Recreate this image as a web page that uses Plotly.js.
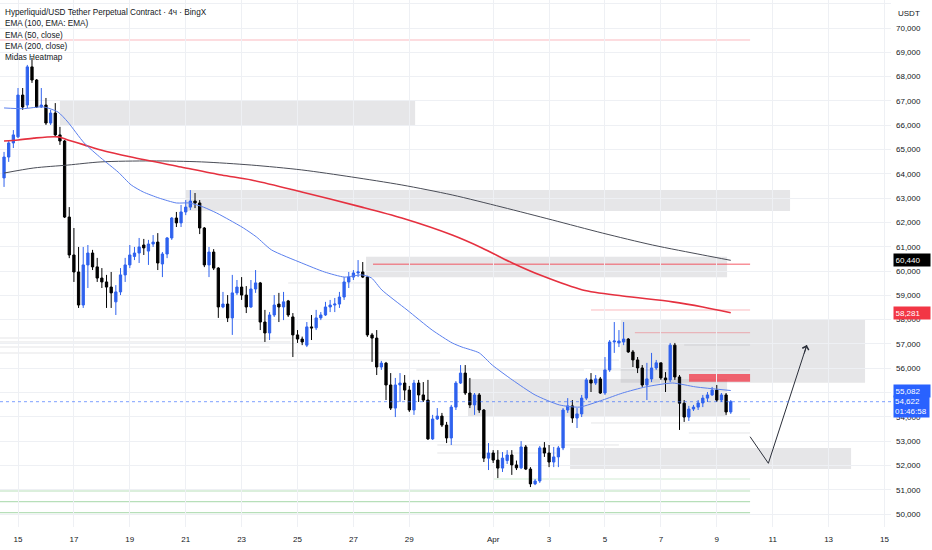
<!DOCTYPE html>
<html>
<head>
<meta charset="utf-8">
<script src="https://cdn.plot.ly/plotly-3.0.1.min.js"></script>
<style>html,body{margin:0;padding:0;background:#fff;}#chart{width:932px;height:550px;}</style>
</head>
<body>
<div id="chart"></div>
<script>
// ---------- DATA (4h candles, first candle 2026-03-14 12:00) ----------
const firstCandle = '2026-03-14 12:00';
const openP = [63830,64690,65270,65520,67240,66830,68400,67860,66750,66830,66090,66500,65600,65350,62220,60660,59960,58600,60250,60740,60170,59710,59550,59340,58730,59140,59840,60250,60600,60740,61070,60820,61110,61190,60290,60700,61360,62180,61980,62430,62630,62880,62800,61770,60250,60780,60120,58520,58640,58070,59100,59340,59010,58520,59260,59510,57900,57450,58190,58640,58520,58770,58110,57370,57200,56950,57700,57660,58070,58190,58520,58600,58640,58930,59550,59750,59920,59960,59750,57370,57240,56050,56210,55310,54360,55310,55390,55100,54280,55390,54900,54690,53090,53910,54030,53660,53130,54400,55390,55800,54980,54490,54900,54280,52300,52510,52220,51890,52200,52430,52020,51900,52760,51850,51240,51360,52720,52510,52140,52350,52720,54280,54450,53950,54120,54770,55520,55390,55560,54980,55930,57080,57040,57080,57200,56670,56340,56010,55310,55560,56010,56220,55600,55520,56950,55640,54560,53990,54320,54400,54570,54770,54900,55100,54690,54900,54200];
const highP = [64900,65390,65800,67530,67530,68480,68770,67900,67530,67120,66630,66910,65930,65390,62630,61770,60990,60990,61070,60870,60540,60120,59840,59960,59420,60120,60540,61070,60990,61360,61320,61280,61480,61560,60780,61400,62220,62430,62720,62920,63330,63210,62920,61810,60990,60900,60160,59140,59010,59840,59630,59750,59380,59630,60040,59550,58400,58310,59010,59100,59140,58810,58270,57570,57300,57900,58190,58400,58310,58730,58810,58890,59140,59750,59960,60040,60450,60370,59800,57450,57570,56300,56260,55800,55600,55800,55720,55270,55520,55520,55430,55520,54080,54360,54160,53790,54490,55470,56130,56130,55600,54980,54980,54320,52920,52630,52630,52550,52630,52630,52200,53000,52840,51930,51440,52800,52960,52840,52760,52800,54360,54770,54690,54360,54900,55600,55800,55720,55640,56460,57160,57900,57570,57900,57240,56750,56460,56130,56220,56630,56340,56220,55840,57040,57040,55720,54690,54450,54490,54690,54900,55020,55230,55310,54980,54980,54690];
const lowP = [63460,64490,65060,65470,66630,66710,67740,66710,66710,66010,66010,65520,65190,62180,60530,59550,58480,58480,59300,60040,59550,59300,58480,58480,58190,59010,59550,60120,60450,60330,60660,60250,60990,60040,59750,60530,61280,61810,61810,62300,62510,62590,61520,60160,59750,60040,58070,58470,57900,57370,59010,58810,58270,58480,59100,57570,57080,57160,58110,57900,57980,58110,56460,57040,56950,56870,57160,57570,57980,58150,58310,58310,58480,58810,59300,59630,59750,59710,57290,56260,55720,55930,54690,54280,53990,54610,54690,54200,54080,54610,54610,53050,53050,53870,53580,52920,52840,54280,55350,54900,54360,54080,54160,52140,51810,52100,51480,51730,52060,51610,51810,51850,51810,51110,51190,51280,52350,51930,51930,51930,52630,54160,53750,53540,53990,54690,55020,55310,54940,54900,55850,56630,56870,56950,56630,56050,55800,55230,54690,55430,55930,55520,55020,55430,55520,53460,53790,53830,54240,54280,54400,54610,54860,54610,54610,54080,54120];
const closeP = [64690,65270,65600,67240,66750,68400,67860,66750,66830,66090,66500,65600,65350,62220,60660,59960,58600,60250,60740,60170,59710,59550,59340,59100,59140,59840,60250,60660,60740,60990,60950,61110,61190,60330,60700,61360,62180,61980,62430,62630,62880,62800,61770,60250,60780,60120,58520,58640,58070,59100,59340,59010,58520,59260,59510,57900,57450,58190,58600,58520,58730,58190,57370,57200,57080,57700,57660,58070,58190,58520,58600,58640,58930,59550,59750,59920,59960,59750,57370,57240,56050,56210,55310,54360,55310,55390,55100,54280,55390,54900,54690,53090,53910,54030,53660,53130,54400,55390,55800,54980,54490,54900,54280,52300,52510,52220,51890,52300,52430,52020,51900,52760,51850,51240,51360,52720,52510,52140,52350,52720,54280,54450,53950,54120,54770,55520,55390,55560,54980,55930,57080,57120,57120,57200,56670,56340,56010,55310,55560,56010,56220,55600,55520,56950,55640,54560,53990,54320,54400,54570,54770,54900,55100,54690,54900,54200,54622];

// EMA lines (candle index -> value)
const ema50Idx = [0,4,8.5,11.6,13.7,17.2,20.8,24.5,27.3,29.9,33.3,37,39.8,42.8,45.6,48.4,51.4,54.2,57.4,63.9,68.8,73.1,76.8,78.9,81.1,86.5,91.9,96.2,98.3,102,104.8,109.1,114,119.2,123.5,128.5,132.8,137.7,143.5,148.5,156];
const ema50Val = [66710,66680,66750,66540,66130,65270,64650,64070,63540,63250,63000,62800,62800,62630,62390,62100,61770,61400,60870,60330,59960,59750,59840,59710,59220,58400,57570,57040,56870,56630,56130,55520,54900,54490,54400,54690,54980,55230,55390,55230,55082];
const ema100Idx = [0,3,6.4,11.6,13.7,17.2,20.8,27.3,38,46.7,53.1,63.9,76.8,85.4,96.2,102.6,109.1,115.5,124.2,132.8,143.5,150,156];
const ema100Val = [65350,65390,65470,65520,65390,65190,64980,64690,64280,63950,63745,63250,62630,62180,61480,60950,60330,59800,59220,58970,58730,58520,58281];
const ema200Idx = [0,6.4,13.7,20.8,31.6,42.4,53.1,63.9,74.6,85.4,96.2,106.9,117.7,128.5,139.2,150,156];
const ema200Val = [64030,64240,64360,64490,64530,64490,64360,64160,63870,63540,63130,62630,62100,61560,61070,60660,60440];

// Zones (gray boxes)
const zoneStart  = ['2026-03-16 12:00','2026-03-21 00:00','2026-03-27 10:50','2026-04-05 13:30','2026-03-31 02:24','2026-04-03 18:00'];
const zoneEnd    = ['2026-03-29 05:00','2026-04-11 14:54','2026-04-09 08:50','2026-04-14 07:18','2026-04-09 08:50','2026-04-13 19:18'];
const zoneTop    = [67000,63330,60590,58010,55560,52720];
const zoneBottom = [65970,62470,59740,55405,53990,51850];
// Red zone
const redZone = {start:'2026-04-08 00:12', end:'2026-04-10 04:36', top:55760, bottom:55445};
// Red / pink levels
const redLevelVal   = [69506,60276,58396,57462];
const redLevelStart = ['2026-03-14 08:32','2026-03-27 16:50','2026-04-04 12:00','2026-04-06 01:40'];
const redLevelEnd   = ['2026-04-10 04:36','2026-04-10 04:36','2026-04-10 04:36','2026-04-10 04:36'];
// Green levels
const greenLevelVal   = [51441,50947,50507,50055];
const greenLevelStart = ['2026-04-01 00:00','2026-03-14 08:32','2026-03-14 08:32','2026-03-14 08:32'];
const greenLevelEnd   = ['2026-04-10 04:36','2026-04-10 04:36','2026-04-10 04:36','2026-04-10 04:36'];
// Faint heatmap levels
const hmVal   = [57243,57079,56873,56626,56338,55927,59507,53746,53335,52841,52511,56955,55927];
const hmStart = ['2026-03-14 08:32','2026-03-14 08:32','2026-03-14 08:32','2026-03-14 08:32','2026-03-23 16:00','2026-03-29 06:00','2026-03-24 16:00','2026-04-04 12:00','2026-04-08 00:00','2026-03-30 00:00','2026-03-30 00:00','2026-04-07 20:00','2026-04-04 12:00'];
const hmEnd   = ['2026-03-25 02:00','2026-03-24 18:00','2026-03-24 00:00','2026-03-30 02:24','2026-04-05 12:00','2026-04-04 06:00','2026-03-27 12:00','2026-04-10 04:36','2026-04-10 04:36','2026-04-05 12:00','2026-04-03 06:00','2026-04-10 04:36','2026-04-10 04:36'];
// Projection arrow
const arrowX = ['2026-04-10 04:36','2026-04-10 20:18','2026-04-12 05:18'];
const arrowY = [53182,52087,56955];
// Axis ticks
const xTickVals = ['2026-03-15','2026-03-17','2026-03-19','2026-03-21','2026-03-23','2026-03-25','2026-03-27','2026-03-29','2026-04-01','2026-04-03','2026-04-05','2026-04-07','2026-04-09','2026-04-11','2026-04-13','2026-04-15'];
const xTickText = ['15','17','19','21','23','25','27','29','Apr','3','5','7','9','11','13','15'];
// Price labels
const lastPrice = 54622, countdown = '01:46:58';
const ema50Last = 55082, ema100Last = 58281, ema200Last = 60440;
const legendLines = ['Hyperliquid/USD Tether Perpetual Contract · 4ч · BingX','EMA (100, EMA: EMA)','EMA (50, close)','EMA (200, close)','Midas Heatmap'];

// ---------- BUILD ----------
const H4 = 4*3600*1000;
const t0 = Date.parse(firstCandle.replace(' ','T')+':00Z');
function fmt(ms){ return new Date(ms).toISOString().slice(0,16).replace('T',' '); }
const times = openP.map((_,i)=>fmt(t0+i*H4));
const idxT = a => a.map(i=>fmt(t0+i*H4));

const FONT = 'Liberation Sans, Arial, sans-serif';
const TXT = '#131722';

const traces = [
  {type:'scatter',mode:'lines',x:idxT(ema200Idx),y:ema200Val,line:{color:'#4a4d57',width:1,shape:'spline',smoothing:0.8},hoverinfo:'skip'},
  {type:'scatter',mode:'lines',x:idxT(ema100Idx),y:ema100Val,line:{color:'#e5303f',width:1.6,shape:'spline',smoothing:0.8},hoverinfo:'skip'},
  {type:'scatter',mode:'lines',x:idxT(ema50Idx),y:ema50Val,line:{color:'#5b80ee',width:1,shape:'spline',smoothing:0.6},hoverinfo:'skip'},
  {type:'candlestick',x:times,open:openP,high:highP,low:lowP,close:closeP,
    increasing:{line:{color:'#2f62ee',width:1},fillcolor:'#2f62ee'},
    decreasing:{line:{color:'#000000',width:1},fillcolor:'#000000'},
    whiskerwidth:0,hoverinfo:'skip'},
  {type:'scatter',mode:'lines',x:arrowX,y:arrowY,line:{color:'#2a2e39',width:1},hoverinfo:'skip'}
];

const shapes = [];
zoneStart.forEach((s,i)=>shapes.push({type:'rect',xref:'x',yref:'y',x0:s,x1:zoneEnd[i],y0:zoneBottom[i],y1:zoneTop[i],
  fillcolor:'rgba(178,180,186,0.33)',line:{width:0},layer:'below'}));
hmVal.forEach((v,i)=>shapes.push({type:'line',xref:'x',yref:'y',x0:hmStart[i],x1:hmEnd[i],y0:v,y1:v,
  line:{color:'rgba(120,123,134,0.2)',width:1},layer:'below'}));
redLevelVal.forEach((v,i)=>shapes.push({type:'line',xref:'x',yref:'y',x0:redLevelStart[i],x1:redLevelEnd[i],y0:v,y1:v,
  line:{color:i===1?'rgba(242,54,69,0.55)':'rgba(242,54,69,0.35)',width:i===1?1.5:1},layer:'below'}));
greenLevelVal.forEach((v,i)=>shapes.push({type:'line',xref:'x',yref:'y',x0:greenLevelStart[i],x1:greenLevelEnd[i],y0:v,y1:v,
  line:{color:i===0?'rgba(76,175,80,0.25)':'rgba(76,175,80,0.4)',width:1.2},layer:'below'}));
shapes.push({type:'rect',xref:'x',yref:'y',x0:redZone.start,x1:redZone.end,y0:redZone.bottom,y1:redZone.top,
  fillcolor:'rgba(242,54,69,0.75)',line:{width:0},layer:'below'});
shapes.push({type:'line',xref:'paper',yref:'y',x0:0,x1:1,y0:lastPrice,y1:lastPrice,line:{color:'rgba(41,98,255,0.6)',width:1,dash:'dot'}});

const fmtNum = v => Math.round(v).toLocaleString('en-US');
const annotations = [];
legendLines.forEach((t,i)=>annotations.push({xref:'paper',yref:'paper',x:0,y:1,xanchor:'left',yanchor:'top',
  xshift:3,yshift:-6-i*11.3,text:t,showarrow:false,font:{family:FONT,size:8.2,color:TXT}}));
annotations.push({xref:'paper',yref:'paper',x:1,y:1,xanchor:'left',yanchor:'top',xshift:5,yshift:-7,text:'USDT',showarrow:false,font:{family:FONT,size:8,color:TXT}});
function tag(val,text,bg,extra){
  annotations.push(Object.assign({xref:'paper',yref:'y',x:1,y:val,xanchor:'left',yanchor:'middle',xshift:2,
    text:text,showarrow:false,bgcolor:bg,borderpad:1.5,width:33,align:'left',
    font:{family:FONT,size:8,color:'#ffffff'}},extra||{}));
}
tag(ema200Last,fmtNum(ema200Last),'#000000');
tag(ema100Last,fmtNum(ema100Last),'#f23645');
tag(ema50Last,fmtNum(ema50Last),'#2962ff');
tag(lastPrice,fmtNum(lastPrice)+'<br>'+countdown,'#2962ff',{yanchor:'top',yshift:7,borderpad:1});
annotations.push({x:arrowX[2],y:arrowY[2],xref:'x',yref:'y',ax:-3,ay:10,text:'',showarrow:true,
  arrowhead:4,arrowsize:1.3,arrowwidth:1,arrowcolor:'#2a2e39'});

const layout = {
  width:932,height:550,margin:{l:0,r:41,t:0,b:23},
  paper_bgcolor:'#ffffff',plot_bgcolor:'#ffffff',showlegend:false,hovermode:false,dragmode:false,
  xaxis:{type:'date',range:['2026-03-14 08:32','2026-04-15 05:36'],tickmode:'array',tickvals:xTickVals,ticktext:xTickText,
    showgrid:true,gridcolor:'#eef0f4',gridwidth:1,zeroline:false,showline:false,ticks:'',ticklabelstandoff:6,
    tickfont:{family:FONT,size:8,color:TXT},rangeslider:{visible:false},fixedrange:true},
  yaxis:{side:'right',range:[49466,71152],dtick:1000,tick0:50000,tickformat:',d',showgrid:true,gridcolor:'#eef0f4',
    zeroline:false,showline:false,ticks:'',ticklabelstandoff:4,tickfont:{family:FONT,size:8,color:TXT},fixedrange:true},
  shapes:shapes,annotations:annotations
};
Plotly.newPlot('chart',traces,layout,{staticPlot:true,displayModeBar:false});
</script>
</body>
</html>
